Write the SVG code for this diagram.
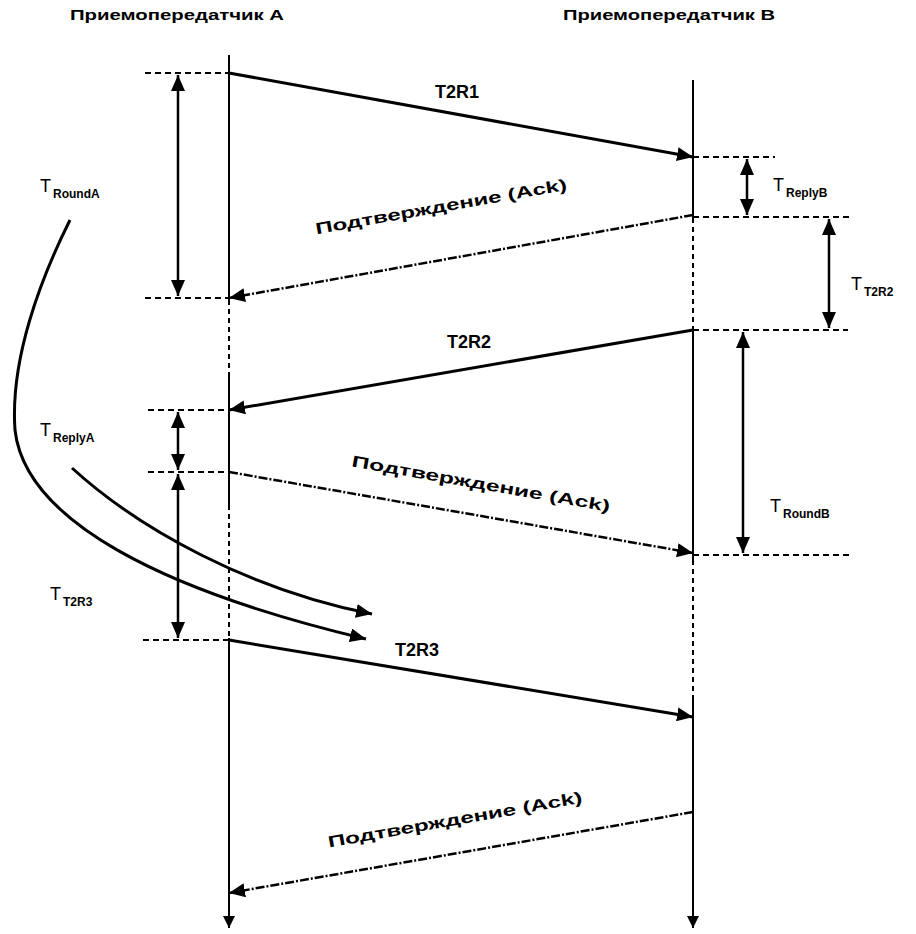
<svg xmlns="http://www.w3.org/2000/svg" width="916" height="934" viewBox="0 0 916 934">
<defs>
<marker id="ah" markerUnits="userSpaceOnUse" markerWidth="18" markerHeight="14" refX="16" refY="7" orient="auto-start-reverse"><path d="M0,0 L16,7 L0,14 z" fill="#000"/></marker>
<marker id="ahs" markerUnits="userSpaceOnUse" markerWidth="14" markerHeight="12" refX="12" refY="6" orient="auto-start-reverse"><path d="M0,0 L12,6 L0,12 z" fill="#000"/></marker>
<style>
.life{stroke:#000;stroke-width:2;fill:none}
.lifed{stroke:#000;stroke-width:2;fill:none;stroke-dasharray:5,4}
.msg{stroke:#000;stroke-width:3;fill:none}
.ack{stroke:#000;stroke-width:2.5;fill:none;stroke-dasharray:9,2,2,2}
.guide{stroke:#000;stroke-width:2;fill:none;stroke-dasharray:6,4}
.dim{stroke:#000;stroke-width:2.5;fill:none}
.curve{stroke:#000;stroke-width:3;fill:none}
text{font-family:"Liberation Sans",Arial,sans-serif;font-weight:bold;fill:#000}
.hdr{font-size:15px}
.lbl{font-size:18px}
.ackl{font-size:16px}
.T{font-size:18px;font-weight:normal}
.sub{font-size:12px}
</style>
</defs>
<g id="headerA"><text class="hdr" x="70" y="20" textLength="214" lengthAdjust="spacingAndGlyphs">Приемопередатчик A</text></g>
<g id="headerB"><text class="hdr" x="563" y="20" textLength="212" lengthAdjust="spacingAndGlyphs">Приемопередатчик B</text></g>
<g id="lifelineA">
<path class="life" d="M229,55 V300"/>
<path class="lifed" d="M229,300 V372"/>
<path class="life" d="M229,372 V505"/>
<path class="lifed" d="M229,505 V638"/>
<path class="life" d="M229,638 V928" marker-end="url(#ahs)"/>
</g>
<g id="lifelineB">
<path class="life" d="M693,80 V218"/>
<path class="lifed" d="M693,218 V330"/>
<path class="life" d="M693,330 V560"/>
<path class="lifed" d="M693,560 V700"/>
<path class="life" d="M693,700 V928" marker-end="url(#ahs)"/>
</g>
<g id="guides">
<path class="guide" d="M145,73 H229 M145,298 H229 M148,410 H229 M148,472 H229 M143,640 H229"/>
<path class="guide" d="M693,157 H775 M693,217 H850 M693,330 H848 M693,555 H850"/>
</g>
<g id="connectors">
<path class="msg" d="M229,73 L693,157" marker-end="url(#ah)"/>
<path class="ack" d="M693,215 L229,298" marker-end="url(#ah)"/>
<path class="msg" d="M693,330 L229,410" marker-end="url(#ah)"/>
<path class="ack" d="M229,472 L693,553" marker-end="url(#ah)"/>
<path class="msg" d="M229,640 L693,717" marker-end="url(#ah)"/>
<path class="ack" d="M693,812 L229,893" marker-end="url(#ah)"/>
<path class="dim" d="M178,75 V296" marker-start="url(#ah)" marker-end="url(#ah)"/>
<path class="dim" d="M178,412 V470" marker-start="url(#ah)" marker-end="url(#ah)"/>
<path class="dim" d="M178,474 V638" marker-start="url(#ah)" marker-end="url(#ah)"/>
<path class="dim" d="M747,159 V215" marker-start="url(#ah)" marker-end="url(#ah)"/>
<path class="dim" d="M829,219 V328" marker-start="url(#ah)" marker-end="url(#ah)"/>
<path class="dim" d="M743,332 V553" marker-start="url(#ah)" marker-end="url(#ah)"/>
<path class="curve" d="M70,220 C40,280 10,360 15,430 C25,520 160,590 366,639" marker-end="url(#ah)"/>
<path class="curve" d="M72,468 C140,530 250,590 372,614" marker-end="url(#ah)"/>
</g>
<g id="labels">
<text class="lbl" x="435" y="98">T2R1</text>
<text class="lbl" x="447" y="348">T2R2</text>
<text class="lbl" x="395" y="656">T2R3</text>
<text class="ackl" transform="translate(442,212) rotate(-10)" text-anchor="middle" x="0" y="0" textLength="255" lengthAdjust="spacingAndGlyphs">Подтверждение (Ack)</text>
<text class="ackl" transform="translate(480,489) rotate(10)" text-anchor="middle" x="0" y="0" textLength="262" lengthAdjust="spacingAndGlyphs">Подтверждение (Ack)</text>
<text class="ackl" transform="translate(456,825) rotate(-10)" text-anchor="middle" x="0" y="0" textLength="258" lengthAdjust="spacingAndGlyphs">Подтверждение (Ack)</text>
</g>
<g id="timeLabels">
<text x="40" y="192"><tspan class="T">T</tspan><tspan class="sub" dx="2" dy="6">RoundA</tspan></text>
<text x="773" y="191"><tspan class="T">T</tspan><tspan class="sub" dx="2" dy="6">ReplyB</tspan></text>
<text x="851" y="290"><tspan class="T">T</tspan><tspan class="sub" dx="2" dy="6">T2R2</tspan></text>
<text x="40" y="436"><tspan class="T">T</tspan><tspan class="sub" dx="2" dy="6">ReplyA</tspan></text>
<text x="770" y="512"><tspan class="T">T</tspan><tspan class="sub" dx="2" dy="6">RoundB</tspan></text>
<text x="50" y="600"><tspan class="T">T</tspan><tspan class="sub" dx="2" dy="6">T2R3</tspan></text>
</g>
</svg>
